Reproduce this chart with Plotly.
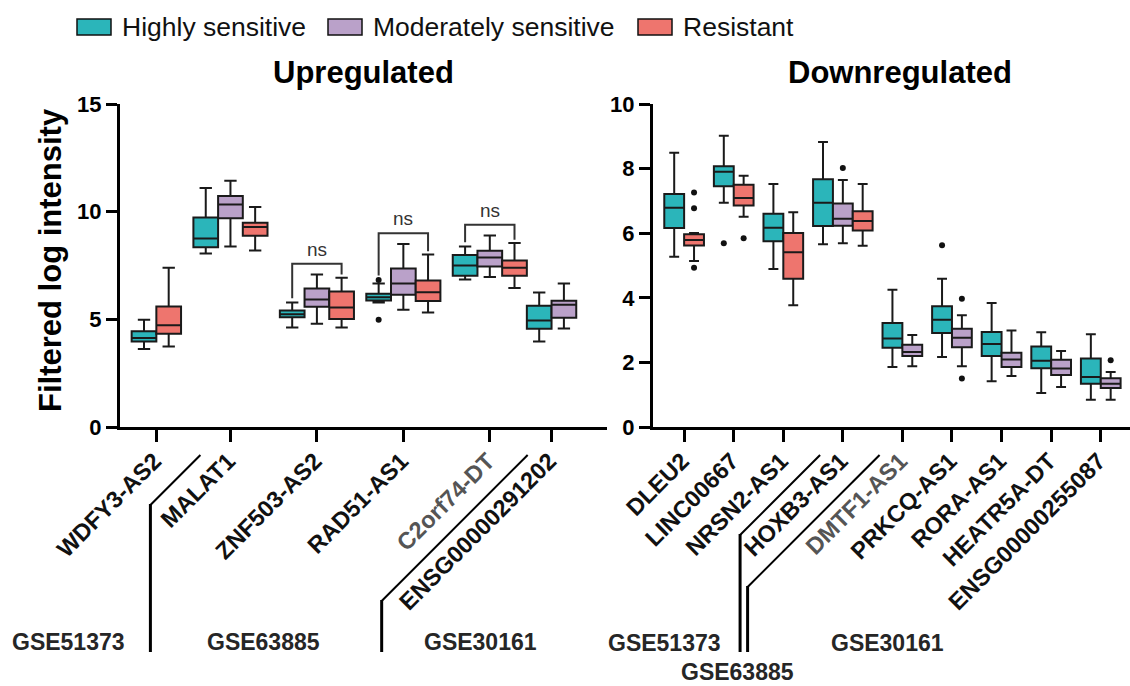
import plotly.graph_objects as go

W, H = 1130, 686
FONT = "Liberation Sans, Arial, sans-serif"

GROUPS = ["Highly sensitive", "Moderately sensitive", "Resistant"]
COLORS = {"Highly sensitive": "#2BB5BA",
          "Moderately sensitive": "#BAA1C9",
          "Resistant": "#EE756E"}

# ---------------- Upregulated panel data ----------------
up_genes = ["WDFY3-AS2", "MALAT1", "ZNF503-AS2", "RAD51-AS1", "C2orf74-DT", "ENSG00000291202"]
up_box_gene = ["WDFY3-AS2", "WDFY3-AS2",
               "MALAT1", "MALAT1", "MALAT1",
               "ZNF503-AS2", "ZNF503-AS2", "ZNF503-AS2",
               "RAD51-AS1", "RAD51-AS1", "RAD51-AS1",
               "C2orf74-DT", "C2orf74-DT", "C2orf74-DT",
               "ENSG00000291202", "ENSG00000291202"]
up_box_group = ["Highly sensitive", "Resistant",
                "Highly sensitive", "Moderately sensitive", "Resistant",
                "Highly sensitive", "Moderately sensitive", "Resistant",
                "Highly sensitive", "Moderately sensitive", "Resistant",
                "Highly sensitive", "Moderately sensitive", "Resistant",
                "Highly sensitive", "Moderately sensitive"]
up_lower = [3.62, 3.74, 8.06, 8.38, 8.20, 4.62, 4.79, 4.62, 5.78, 5.44, 5.32, 6.85, 6.97, 6.46, 3.97, 4.58]
up_q1 = [3.97, 4.33, 8.35, 9.70, 8.88, 5.10, 5.58, 5.01, 5.88, 6.14, 5.85, 7.02, 7.45, 7.02, 4.56, 5.07]
up_median = [4.13, 4.72, 8.75, 10.33, 9.29, 5.24, 5.92, 5.55, 6.03, 6.66, 6.26, 7.50, 7.87, 7.39, 4.95, 5.68]
up_q3 = [4.45, 5.60, 9.73, 10.73, 9.49, 5.41, 6.43, 6.29, 6.19, 7.36, 6.80, 7.99, 8.18, 7.73, 5.63, 5.86]
up_upper = [4.98, 7.39, 11.10, 11.44, 10.22, 5.78, 7.08, 6.93, 6.66, 8.50, 8.01, 8.38, 8.89, 8.55, 6.25, 6.66]
up_out_gene = ["RAD51-AS1", "RAD51-AS1"]
up_out_group = ["Highly sensitive", "Highly sensitive"]
up_out_value = [6.83, 4.98]
up_ns_genes = ["ZNF503-AS2", "RAD51-AS1", "C2orf74-DT"]
up_gray_labels = ["C2orf74-DT"]
up_yticks = [0, 5, 10, 15]

# ---------------- Downregulated panel data ----------------
dn_genes = ["DLEU2", "LINC00667", "NRSN2-AS1", "HOXB3-AS1", "DMTF1-AS1",
            "PRKCQ-AS1", "RORA-AS1", "HEATR5A-DT", "ENSG00000255087"]
dn_box_gene = ["DLEU2", "DLEU2", "LINC00667", "LINC00667", "NRSN2-AS1", "NRSN2-AS1",
               "HOXB3-AS1", "HOXB3-AS1", "HOXB3-AS1",
               "DMTF1-AS1", "DMTF1-AS1", "PRKCQ-AS1", "PRKCQ-AS1",
               "RORA-AS1", "RORA-AS1", "HEATR5A-DT", "HEATR5A-DT",
               "ENSG00000255087", "ENSG00000255087"]
dn_box_group = ["Highly sensitive", "Resistant", "Highly sensitive", "Resistant",
                "Highly sensitive", "Resistant",
                "Highly sensitive", "Moderately sensitive", "Resistant",
                "Highly sensitive", "Moderately sensitive", "Highly sensitive", "Moderately sensitive",
                "Highly sensitive", "Moderately sensitive", "Highly sensitive", "Moderately sensitive",
                "Highly sensitive", "Moderately sensitive"]
dn_lower = [5.27, 5.14, 6.94, 6.51, 4.89, 3.77, 5.66, 5.69, 5.61, 1.86, 1.88, 2.17, 1.88, 1.42, 1.58, 1.05, 1.24, 0.84, 0.84]
dn_q1 = [6.16, 5.62, 7.45, 6.86, 5.75, 4.59, 6.22, 6.23, 6.08, 2.45, 2.20, 2.91, 2.47, 2.20, 1.86, 1.82, 1.61, 1.34, 1.21]
dn_median = [6.79, 5.79, 7.90, 7.09, 6.17, 5.41, 6.94, 6.45, 6.38, 2.74, 2.32, 3.32, 2.76, 2.57, 2.09, 2.05, 1.81, 1.55, 1.34]
dn_q3 = [7.21, 5.97, 8.07, 7.50, 6.60, 6.01, 7.67, 6.92, 6.68, 3.22, 2.55, 3.74, 3.04, 2.94, 2.30, 2.49, 2.08, 2.12, 1.51]
dn_upper = [8.49, 6.01, 9.02, 7.78, 7.52, 6.65, 8.82, 7.65, 7.52, 4.25, 2.85, 4.59, 3.46, 3.84, 2.99, 2.93, 2.35, 2.87, 1.70]
dn_out_gene = ["DLEU2", "DLEU2", "DLEU2", "LINC00667", "LINC00667", "HOXB3-AS1",
               "PRKCQ-AS1", "PRKCQ-AS1", "PRKCQ-AS1", "ENSG00000255087"]
dn_out_group = ["Resistant", "Resistant", "Resistant", "Highly sensitive", "Resistant",
                "Moderately sensitive", "Highly sensitive", "Moderately sensitive",
                "Moderately sensitive", "Moderately sensitive"]
dn_out_value = [7.26, 6.77, 4.93, 5.69, 5.84, 8.02, 5.63, 3.97, 1.50, 2.07]
dn_ns_genes = []
dn_gray_labels = ["DMTF1-AS1"]
dn_yticks = [0, 2, 4, 6, 8, 10]

datasets_up = ["GSE51373", "GSE63885", "GSE30161"]
datasets_dn = ["GSE51373", "GSE63885", "GSE30161"]

# ---------------- layout geometry (pixels) ----------------
Y0_PX, Y1_PX = 427, 104          # bottom / top of plotting area
PANELS = {
    "up": dict(x0=120, x1=607, slot=24.7, first=144, gaps=[0.5, 0.5, 0.5, 0.5, 0.0], ymax=15),
    "dn": dict(x0=653, x1=1130, slot=19.84, first=674.2, gaps=[0.5] * 8, ymax=10),
}


def positions(genes, box_gene, gaps):
    pos = [0.0] * len(box_gene)
    cur = 1.0
    centers = []
    for gi, g in enumerate(genes):
        if gi > 0:
            cur += gaps[gi - 1]
        idx = [i for i, bg in enumerate(box_gene) if bg == g]
        ps = []
        for i in idx:
            pos[i] = cur
            ps.append(cur)
            cur += 1.0
        centers.append(sum(ps) / len(ps))
    return pos, centers


fig = go.Figure()
shapes = []
annotations = []


def px2x(px):
    return px / W


def py2y(py):
    return 1 - py / H


def build_panel(key, axis_suffix, genes, box_gene, box_group, lower, q1, med, q3, upper,
                out_gene, out_group, out_value, ns_genes, gray_labels, yticks):
    P = PANELS[key]
    pos, centers = positions(genes, box_gene, P["gaps"])
    r0 = 1 - (P["first"] - P["x0"]) / P["slot"]
    r1 = r0 + (P["x1"] - P["x0"]) / P["slot"]
    xa = "x" + axis_suffix
    ya = "y" + axis_suffix
    for g in GROUPS:
        idx = [i for i, bg in enumerate(box_group) if bg == g]
        if not idx:
            continue
        fig.add_trace(go.Box(
            x=[pos[i] for i in idx],
            q1=[q1[i] for i in idx], median=[med[i] for i in idx], q3=[q3[i] for i in idx],
            lowerfence=[lower[i] for i in idx], upperfence=[upper[i] for i in idx],
            fillcolor=COLORS[g], line=dict(color="#1a1a1a", width=2),
            width=1.0, whiskerwidth=0.5, boxpoints=False, name=g, showlegend=False,
            xaxis=xa, yaxis=ya, hoverinfo="skip"))
    # outliers
    ox, oy = [], []
    for gname, grp, v in zip(out_gene, out_group, out_value):
        i = [k for k in range(len(box_gene)) if box_gene[k] == gname and box_group[k] == grp][0]
        ox.append(pos[i])
        oy.append(v)
    if ox:
        fig.add_trace(go.Scatter(x=ox, y=oy, mode="markers", showlegend=False,
                                 marker=dict(color="#111111", size=6),
                                 xaxis=xa, yaxis=ya, hoverinfo="skip"))
    # ns brackets
    for gname in ns_genes:
        idx = [k for k in range(len(box_gene)) if box_gene[k] == gname]

        def box_max(k):
            vals = [upper[k]] + [v for gg, gr, v in zip(out_gene, out_group, out_value)
                                 if gg == gname and gr == box_group[k]]
            return max(vals)
        top = max(box_max(k) for k in idx) + 0.5
        a, b = idx[0], idx[-1]
        fig.add_trace(go.Scatter(
            x=[pos[a], pos[a], pos[b], pos[b]],
            y=[box_max(a) + 0.2, top, top, box_max(b) + 0.15],
            mode="lines", line=dict(color="#333333", width=2), showlegend=False,
            xaxis=xa, yaxis=ya, hoverinfo="skip"))
        annotations.append(dict(x=(pos[a] + pos[b]) / 2, y=top + 0.1, xref=xa, yref=ya,
                                text="ns", showarrow=False, yanchor="bottom",
                                font=dict(family=FONT, size=19, color="#333333")))
    ticktext = [f"<span style='color:#555555'>{g}</span>" if g in gray_labels else g for g in genes]
    axis_common = dict(showline=True, linewidth=3, linecolor="#000000", ticks="outside",
                       tickwidth=3, tickcolor="#000000", showgrid=False, zeroline=False,
                       automargin=False)
    xdom = [P["x0"] / W, min(1.0, P["x1"] / W)]
    ydom = [py2y(Y0_PX), py2y(Y1_PX)]
    fig.update_layout(**{
        "xaxis" + axis_suffix: dict(domain=xdom, range=[r0, r1], anchor=ya,
                                    tickvals=centers, ticktext=ticktext, tickangle=-45,
                                    ticklen=12, ticklabelstandoff=-4, ticklabelshift=-2,
                                    tickfont=dict(family=FONT, size=23.5, color="#111111", weight="bold"),
                                    **axis_common),
        "yaxis" + axis_suffix: dict(domain=ydom, range=[0, P["ymax"]], anchor=xa,
                                    tickvals=yticks, ticklen=11,
                                    tickfont=dict(family=FONT, size=22, color="#000000", weight="bold"),
                                    **axis_common),
    })
    # tick pixel positions (for group dividers)
    tick_px = [P["x0"] + (c - r0) * P["slot"] for c in centers]
    return tick_px


up_ticks = build_panel("up", "", up_genes, up_box_gene, up_box_group, up_lower, up_q1, up_median,
                       up_q3, up_upper, up_out_gene, up_out_group, up_out_value, up_ns_genes,
                       up_gray_labels, up_yticks)
dn_ticks = build_panel("dn", "2", dn_genes, dn_box_gene, dn_box_group, dn_lower, dn_q1, dn_median,
                       dn_q3, dn_upper, dn_out_gene, dn_out_group, dn_out_value, dn_ns_genes,
                       dn_gray_labels, dn_yticks)


# ---------------- dataset dividers ----------------
def divider(tick_px, after, drop):
    xt = (tick_px[after] + tick_px[after + 1]) / 2 + 7
    yt = 455
    xv = xt - drop
    yb = yt + drop
    shapes.append(dict(type="line", xref="paper", yref="paper",
                       x0=px2x(xt), y0=py2y(yt), x1=px2x(xv), y1=py2y(yb),
                       line=dict(color="#000000", width=2)))
    shapes.append(dict(type="line", xref="paper", yref="paper",
                       x0=px2x(xv), y0=py2y(yb - 1), x1=px2x(xv), y1=py2y(652),
                       line=dict(color="#000000", width=3)))


divider(up_ticks, 0, 50)
divider(up_ticks, 4, 146)
divider(dn_ticks, 2, 80)
divider(dn_ticks, 3, 132)

DS_FONT = dict(family=FONT, size=23, color="#262626", weight="bold")
for txt, xp, yp in [(datasets_up[0], 68, 642), (datasets_up[1], 263, 642), (datasets_up[2], 481, 642),
                    (datasets_dn[0], 664, 643), (datasets_dn[2], 887, 643)]:
    annotations.append(dict(x=px2x(xp), y=py2y(yp), xref="paper", yref="paper", text=txt,
                            showarrow=False, xanchor="center", yanchor="middle", font=DS_FONT))
# lowest label sits against the bottom edge
annotations.append(dict(x=px2x(738), y=0, xref="paper", yref="paper", text=datasets_dn[1],
                        showarrow=False, xanchor="center", yanchor="bottom", borderpad=0,
                        font=DS_FONT))

# ---------------- titles ----------------
TITLE_FONT = dict(family=FONT, size=31, color="#000000", weight="bold")
annotations.append(dict(x=px2x(363), y=py2y(72), xref="paper", yref="paper", text="Upregulated",
                        showarrow=False, xanchor="center", yanchor="middle", font=TITLE_FONT))
annotations.append(dict(x=px2x(900), y=py2y(72), xref="paper", yref="paper", text="Downregulated",
                        showarrow=False, xanchor="center", yanchor="middle", font=TITLE_FONT))
annotations.append(dict(x=px2x(50), y=py2y(260), xref="paper", yref="paper",
                        text="Filtered log intensity", textangle=-90,
                        showarrow=False, xanchor="center", yanchor="middle", font=TITLE_FONT))

# ---------------- legend (drawn) ----------------
LEG_FONT = dict(family=FONT, size=26.5, color="#111111")
for g, rx in zip(GROUPS, [77, 328, 638]):
    shapes.append(dict(type="rect", xref="paper", yref="paper",
                       x0=px2x(rx), x1=px2x(rx + 34), y0=py2y(35), y1=py2y(19),
                       fillcolor=COLORS[g], line=dict(color="#111111", width=1.5)))
    annotations.append(dict(x=px2x(rx + 43), y=py2y(27), xref="paper", yref="paper", text=g,
                            showarrow=False, xanchor="left", yanchor="middle", font=LEG_FONT))

fig.update_layout(width=W, height=H, autosize=False,
                  margin=dict(l=0, r=0, t=0, b=0, pad=0, autoexpand=False),
                  paper_bgcolor="white", plot_bgcolor="white",
                  boxmode="overlay", showlegend=False,
                  shapes=shapes, annotations=annotations,
                  font=dict(family=FONT))

fig.write_html("out.html")
